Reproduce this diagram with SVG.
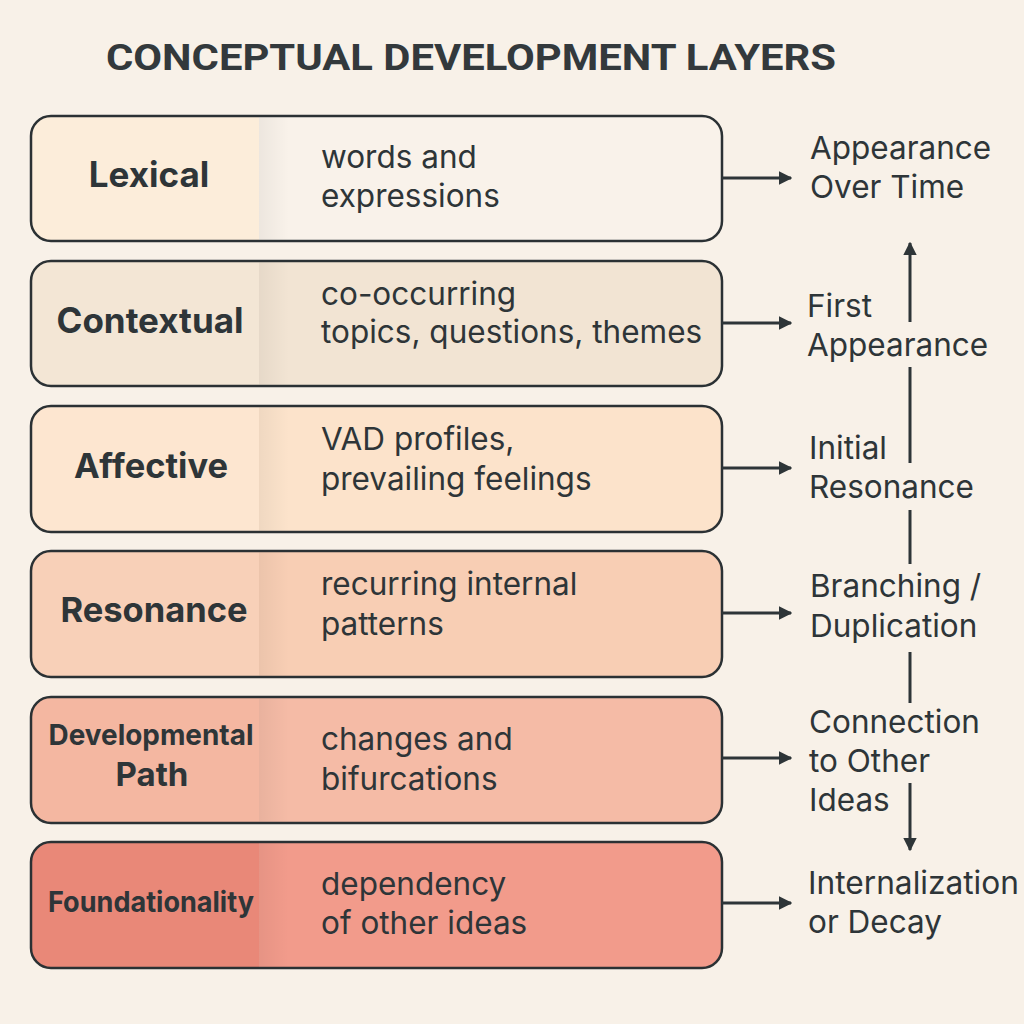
<svg xmlns="http://www.w3.org/2000/svg" width="1024" height="1024" viewBox="0 0 1024 1024">
  <defs>
    <style>
      .box { stroke: #2b3134; stroke-width: 2.5; }
      .lbl { font-family: "Inter", "Open Sans", "Liberation Sans", sans-serif; font-weight: 700; fill: #2e3538; text-anchor: middle; }
      .desc { font-family: "Inter", "Open Sans", "Liberation Sans", sans-serif; font-size: 31.5px; fill: #2e3538; }
      .out { font-family: "Inter", "Open Sans", "Liberation Sans", sans-serif; font-size: 31.5px; fill: #2e3538; }
      .title { font-family: "Roboto", "Liberation Sans", sans-serif; font-weight: 700; font-size: 37px; fill: #33393c; }
      .wire { stroke: #2e3538; stroke-width: 3; fill: none; }
    </style>
    <marker id="head" viewBox="0 0 10 10" refX="9" refY="5" markerWidth="4.5" markerHeight="4.5" markerUnits="strokeWidth" orient="auto">
      <path d="M0,0 L10,5 L0,10 Z" fill="#2e3538"/>
    </marker>
    <linearGradient id="shade" x1="0" y1="0" x2="1" y2="0">
      <stop offset="0" stop-color="#000" stop-opacity="0.05"/>
      <stop offset="1" stop-color="#000" stop-opacity="0"/>
    </linearGradient>
  </defs>

  <rect width="1024" height="1024" fill="#f8f1e8"/>

  <text class="title" x="106" y="70" textLength="730" lengthAdjust="spacingAndGlyphs">CONCEPTUAL DEVELOPMENT LAYERS</text>

  <!-- layer rows -->
  <g id="lexical">
    <rect x="31" y="116" width="691" height="125" rx="20" fill="#f9f2ea"/>
    <path d="M51,116 H259 V241 H51 A20,20 0 0 1 31,221 V136 A20,20 0 0 1 51,116 Z" fill="#fcedda"/>
    <rect x="259" y="117.5" width="30" height="122" fill="url(#shade)"/>
    <rect x="31" y="116" width="691" height="125" rx="20" fill="none" class="box"/>
    <text class="lbl" x="149" y="187" font-size="35">Lexical</text>
    <text class="desc" x="321" y="168">words and</text>
    <text class="desc" x="321" y="207">expressions</text>
  </g>

  <g id="contextual">
    <rect x="31" y="261" width="691" height="125" rx="20" fill="#f2e4d3"/>
    <path d="M51,261 H259 V386 H51 A20,20 0 0 1 31,366 V281 A20,20 0 0 1 51,261 Z" fill="#f3e6d5"/>
    <rect x="259" y="262.5" width="30" height="122" fill="url(#shade)"/>
    <rect x="31" y="261" width="691" height="125" rx="20" fill="none" class="box"/>
    <text class="lbl" x="150" y="333" font-size="35">Contextual</text>
    <text class="desc" x="321" y="305">co-occurring</text>
    <text class="desc" x="321" y="343">topics, questions, themes</text>
  </g>

  <g id="affective">
    <rect x="31" y="406" width="691" height="126" rx="20" fill="#fce3cb"/>
    <path d="M51,406 H259 V532 H51 A20,20 0 0 1 31,512 V426 A20,20 0 0 1 51,406 Z" fill="#fde6d0"/>
    <rect x="259" y="407.5" width="30" height="123" fill="url(#shade)"/>
    <rect x="31" y="406" width="691" height="126" rx="20" fill="none" class="box"/>
    <text class="lbl" x="151" y="478" font-size="34.5">Affective</text>
    <text class="desc" x="321" y="450">VAD profiles,</text>
    <text class="desc" x="321" y="490">prevailing feelings</text>
  </g>

  <g id="resonance">
    <rect x="31" y="551" width="691" height="126" rx="20" fill="#f8ceb4"/>
    <path d="M51,551 H259 V677 H51 A20,20 0 0 1 31,657 V571 A20,20 0 0 1 51,551 Z" fill="#f8d0b8"/>
    <rect x="259" y="552.5" width="30" height="123" fill="url(#shade)"/>
    <rect x="31" y="551" width="691" height="126" rx="20" fill="none" class="box"/>
    <text class="lbl" x="154" y="622" font-size="34.5">Resonance</text>
    <text class="desc" x="321" y="595">recurring internal</text>
    <text class="desc" x="321" y="635">patterns</text>
  </g>

  <g id="developmental-path">
    <rect x="31" y="697" width="691" height="126" rx="20" fill="#f5bba6"/>
    <path d="M51,697 H259 V823 H51 A20,20 0 0 1 31,803 V717 A20,20 0 0 1 51,697 Z" fill="#f4b7a1"/>
    <rect x="259" y="698.5" width="30" height="123" fill="url(#shade)"/>
    <rect x="31" y="697" width="691" height="126" rx="20" fill="none" class="box"/>
    <text class="lbl" x="151" y="745" font-size="29" textLength="205" lengthAdjust="spacingAndGlyphs">Developmental</text>
    <text class="lbl" x="152" y="786" font-size="33">Path</text>
    <text class="desc" x="321" y="750">changes and</text>
    <text class="desc" x="321" y="790">bifurcations</text>
  </g>

  <g id="foundationality">
    <rect x="31" y="842" width="691" height="126" rx="20" fill="#f29b8b"/>
    <path d="M51,842 H259 V968 H51 A20,20 0 0 1 31,948 V862 A20,20 0 0 1 51,842 Z" fill="#e98878"/>
    <rect x="259" y="843.5" width="30" height="123" fill="url(#shade)"/>
    <rect x="31" y="842" width="691" height="126" rx="20" fill="none" class="box"/>
    <text class="lbl" x="151" y="912" font-size="29" textLength="206" lengthAdjust="spacingAndGlyphs">Foundationality</text>
    <text class="desc" x="321" y="895">dependency</text>
    <text class="desc" x="321" y="934">of other ideas</text>
  </g>

  <!-- outcome labels -->
  <g id="appearance-over-time">
    <text class="out" x="810" y="159">Appearance</text>
    <text class="out" x="810" y="198">Over Time</text>
  </g>
  <g id="first-appearance">
    <text class="out" x="807" y="317">First</text>
    <text class="out" x="807" y="356">Appearance</text>
  </g>
  <g id="initial-resonance">
    <text class="out" x="809" y="459">Initial</text>
    <text class="out" x="809" y="498">Resonance</text>
  </g>
  <g id="branching-duplication">
    <text class="out" x="810" y="597">Branching /</text>
    <text class="out" x="810" y="637">Duplication</text>
  </g>
  <g id="connection">
    <text class="out" x="809" y="733">Connection</text>
    <text class="out" x="809" y="772">to Other</text>
    <text class="out" x="809" y="811">Ideas</text>
  </g>
  <g id="internalization">
    <text class="out" x="808" y="894" textLength="211" lengthAdjust="spacingAndGlyphs">Internalization</text>
    <text class="out" x="808" y="933">or Decay</text>
  </g>

  <!-- connectors -->
  <g id="connectors">
    <line class="wire" x1="722" y1="178" x2="791" y2="178" marker-end="url(#head)"/>
    <line class="wire" x1="722" y1="323" x2="791" y2="323" marker-end="url(#head)"/>
    <line class="wire" x1="722" y1="468" x2="791" y2="468" marker-end="url(#head)"/>
    <line class="wire" x1="722" y1="613" x2="791" y2="613" marker-end="url(#head)"/>
    <line class="wire" x1="722" y1="758" x2="791" y2="758" marker-end="url(#head)"/>
    <line class="wire" x1="722" y1="903" x2="791" y2="903" marker-end="url(#head)"/>

    <line class="wire" x1="910" y1="322" x2="910" y2="243" marker-end="url(#head)"/>
    <line class="wire" x1="910" y1="367" x2="910" y2="463"/>
    <line class="wire" x1="910" y1="510" x2="910" y2="564"/>
    <line class="wire" x1="910" y1="652" x2="910" y2="703"/>
    <line class="wire" x1="910" y1="783" x2="910" y2="850" marker-end="url(#head)"/>
  </g>
</svg>
